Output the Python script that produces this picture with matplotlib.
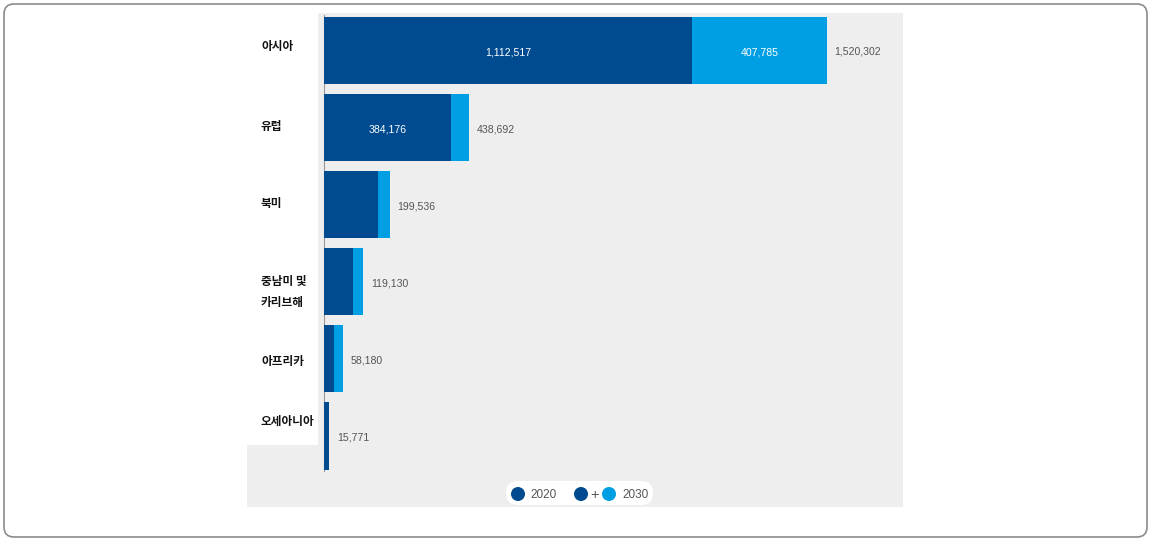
import matplotlib
matplotlib.use("Agg")
import matplotlib.pyplot as plt
from matplotlib.patches import Rectangle, FancyBboxPatch, Circle
import numpy as np

# ---- data ----
categories = ["아시아", "유럽", "북미", "중남미 및\n카리브해", "아프리카", "오세아니아"]
values_2020 = [1112517, 384176, 163000, 88500, 31000, 15000]
totals_2030 = [1520302, 438692, 199536, 119130, 58180, 15771]
inside_2020_labels = ["1,112,517", "384,176", None, None, None, None]
inside_2030_labels = ["407,785", None, None, None, None, None]
legend_labels = ["2020", "2030"]

DARK = "#004a8f"
LIGHT = "#009fe3"
BG = "#eeeeee"
TXT = "#555555"

W, H = 1151, 541
fig = plt.figure(figsize=(W / 100, H / 100), dpi=100)
plt.rcParams['font.family'] = ['Liberation Sans', 'Noto Sans CJK KR', 'DejaVu Sans']

# overlay axes in pixel coords (y from top)
ov = fig.add_axes([0, 0, 1, 1], zorder=0)
ov.set_xlim(0, W)
ov.set_ylim(H, 0)
ov.axis("off")

# outer rounded border
ov.add_patch(FancyBboxPatch((4, 4), W - 8, H - 8, boxstyle="round,pad=0,rounding_size=10",
                            fc="white", ec="#8c8c8c", lw=1.2))
# gray panel
ov.add_patch(Rectangle((247, 13), 903 - 247, 507 - 13, fc=BG, ec="none"))
ov.add_patch(Rectangle((247, 13), 318 - 247, 445 - 13, fc="white", ec="none"))

# main axes
x0, x1, ytop, ybot = 324, 903, 13, 507
ax = fig.add_axes([x0 / W, (H - ybot) / H, (x1 - x0) / W, (ybot - ytop) / H], zorder=1)
ax.patch.set_alpha(0)
for s in ax.spines.values():
    s.set_visible(False)
ax.set_xticks([])
ax.set_yticks([])

pitch = 77.1
n = len(categories)
ypos = np.arange(n)
ax.set_xlim(0, 1750000)
ax.set_ylim((ybot - 50.5) / pitch, -(50.5 - ytop) / pitch)

bh = 0.87
v20 = np.array(values_2020)
tot = np.array(totals_2030)
inc = tot - v20
ax.plot([0, 0], [-bh / 2 - 0.02, n - 1 + bh / 2 + 0.02], color="#9a9a9a", lw=0.8,
        clip_on=False, zorder=1)
ax.barh(ypos, v20, height=bh, color=DARK, edgecolor="none", zorder=2)
ax.barh(ypos, inc, left=v20, height=bh, color=LIGHT, edgecolor="none", zorder=2)

fs_num = 7.6
for i in range(n):
    if inside_2020_labels[i]:
        ax.text(v20[i] / 2, i + 0.03, inside_2020_labels[i], color="white",
                ha="center", va="center", fontsize=fs_num, zorder=3)
    if inside_2030_labels[i]:
        ax.text(v20[i] + inc[i] / 2, i + 0.03, inside_2030_labels[i], color="white",
                ha="center", va="center", fontsize=fs_num, zorder=3)
    ax.annotate(f"{tot[i]:,}", (tot[i], i), xytext=(7.5, -1.5), textcoords="offset pixels",
                ha="left", va="center", color=TXT, fontsize=fs_num)

# category labels (pixel offsets relative to bar centres)
label_dy = [-4, -1.5, -1, 10, 2.5, -14.5]
for i, lab in enumerate(categories):
    yc = 50.5 + pitch * i + label_dy[i]
    ov.text(261, yc, lab, ha="left", va="center", fontsize=8.4, fontweight="bold",
            color="#111111", family=['Noto Sans CJK KR', 'DejaVu Sans'], linespacing=1.75)

# legend pill
ov.add_patch(FancyBboxPatch((506, 481), 147, 24, boxstyle="round,pad=0,rounding_size=12",
                            fc="white", ec="none"))
ly = 494
ov.add_patch(Circle((518, ly), 7, fc=DARK, ec="none"))
ov.text(530, ly + 0.5, legend_labels[0], ha="left", va="center", fontsize=8.5, color=TXT)
ov.add_patch(Circle((581, ly), 7, fc=DARK, ec="none"))
ov.text(595, ly + 0.5, "+", ha="center", va="center", fontsize=10.5, color=TXT)
ov.add_patch(Circle((609, ly), 7, fc=LIGHT, ec="none"))
ov.text(622, ly + 0.5, legend_labels[1], ha="left", va="center", fontsize=8.5, color=TXT)

fig.savefig("out.png", dpi=100)
